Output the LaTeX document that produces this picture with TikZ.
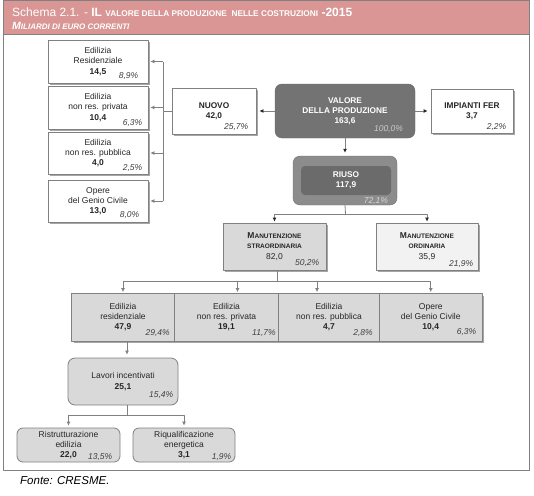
\documentclass[tikz,border=0pt]{standalone}
\usepackage[x11names,rgb]{xcolor}
\usepackage{fontspec}
\setmainfont{Liberation Sans}
\usepackage{tikz}
\usetikzlibrary{arrows.meta}
\usetikzlibrary{shadows}
\definecolor{headpink}{HTML}{D99694}
\newcommand{\smc}[2][6.5]{{\fontsize{#1}{#1}\selectfont #2}}

\begin{document}
\begin{tikzpicture}[x=1pt,y=-1pt,join=round,
every node/.style={font=\fontsize{8.5}{10.3}\selectfont,text=black!85,inner sep=0pt,align=center},
conn/.style={draw=black!50,line width=.8pt},
arr/.style={conn,-{Latex[length=4pt,width=4pt]},shorten >=2pt},
arrk/.style={conn,-{Latex[length=4pt,width=4pt,black!85]},shorten >=3pt},
shad/.style={drop shadow={shadow xshift=2pt,shadow yshift=-2pt,fill=black!35,opacity=1}},
wbox/.style={draw=black!50,line width=.8pt,fill=white,shad},
gbox/.style={draw=black!50,line width=.8pt,fill=black!15,shad},
rbox/.style={draw=black!50,line width=.8pt,fill=black!15,rounded corners=7pt},
pct/.style={anchor=base east,font=\fontsize{8.5}{10}\selectfont\itshape,text=black!75}]
\useasboundingbox (0,0) rectangle (534,495);
\draw[draw=black!50,line width=1pt] (3,1) rectangle (529,470);
\filldraw[fill=headpink,draw=black!50,line width=1pt] (3,1) rectangle (529,35);
\node[anchor=base west,text=white,font=\fontsize{12}{14}\selectfont] (head) at (12,16.5) {Schema 2.1. - \textbf{IL \smc[8.3]{VALORE DELLA PRODUZIONE\ \ NELLE COSTRUZIONI} -2015}};
\node[anchor=base west,text=white,font=\fontsize{10.5}{12}\selectfont\bfseries\itshape] (subhead) at (12,30) {M\smc[8]{ILIARDI DI EURO CORRENTI}};

\node[fill=black!55,draw=black!60,rounded corners=7pt,minimum width=140,minimum height=54,text=white,font=\fontsize{8.3}{10.2}\selectfont\bfseries] (valore) at (345,111) {VALORE\\DELLA PRODUZIONE\\163,6};
\node[pct,text=black!20] (valore-p) at ([shift={(-12,-7)}]valore.south east) {100,0\%};
\node[wbox,minimum width=84,minimum height=46,font=\fontsize{8.3}{10.2}\selectfont\bfseries] (nuovo) at (214,111) {NUOVO\\42,0};
\node[pct] (nuovo-p) at ([shift={(-8,-5)}]nuovo.south east) {25,7\%};
\node[wbox,minimum width=82,minimum height=44,font=\fontsize{8.3}{10.2}\selectfont\bfseries] (fer) at (472,111) {IMPIANTI FER\\3,7};
\node[pct] (fer-p) at ([shift={(-7,-4)}]fer.south east) {2,2\%};

\node[wbox,minimum width=100,minimum height=43] (res) at (98,61.5) {Edilizia\\Residenziale\\\textbf{14,5}};
\node[pct] (res-p) at ([shift={(-10,-5)}]res.south east) {8,9\%};
\node[wbox,minimum width=100,minimum height=43] (npriv) at (98,107.5) {Edilizia\\non res. privata\\\textbf{10,4}};
\node[pct] (npriv-p) at ([shift={(-6,-4)}]npriv.south east) {6,3\%};
\node[wbox,minimum width=100,minimum height=42] (npub) at (98,153) {Edilizia\\non res. pubblica\\\textbf{4,0}};
\node[pct] (npub-p) at ([shift={(-6,-4)}]npub.south east) {2,5\%};
\node[wbox,minimum width=100,minimum height=42] (genio) at (98,201) {Opere\\del Genio Civile\\\textbf{13,0}};
\node[pct] (genio-p) at ([shift={(-9,-5)}]genio.south east) {8,0\%};

\node[fill=black!45,draw=black!55,rounded corners=7pt,minimum width=104,minimum height=49] (riuso) at (345,180.5) {};
\node[fill=black!58,rounded corners=4pt,minimum width=90,minimum height=29,text=white,font=\fontsize{8.3}{10.2}\selectfont\bfseries] (riuso-in) at (346,180.5) {RIUSO\\117,9};
\node[pct,text=black!15] (riuso-p) at ([shift={(-9,-2)}]riuso.south east) {72,1\%};

\node[gbox,minimum width=103,minimum height=47] (mstra) at (274.5,246.5) {\textbf{M\smc{ANUTENZIONE}}\\\textbf{\smc{STRAORDINARIA}}\\82,0};
\node[pct] (mstra-p) at ([shift={(-7,-4.5)}]mstra.south east) {50,2\%};
\node[wbox,fill=black!5,minimum width=102,minimum height=47] (mord) at (427,246.5) {\textbf{M\smc{ANUTENZIONE}}\\\textbf{\smc{ORDINARIA}}\\35,9};
\node[pct] (mord-p) at ([shift={(-5,-4)}]mord.south east) {21,9\%};

\node[gbox,minimum width=103,minimum height=47.5] (eb1) at (123,317.25) {Edilizia\\residenziale\\\textbf{47,9}};
\node[pct] (eb1-p) at ([shift={(-5,-6)}]eb1.south east) {29,4\%};
\node[gbox,minimum width=104,minimum height=47.5] (eb2) at (226.5,317.25) {Edilizia\\non res. privata\\\textbf{19,1}};
\node[pct] (eb2-p) at ([shift={(-3,-6)}]eb2.south east) {11,7\%};
\node[gbox,minimum width=101,minimum height=47.5] (eb3) at (329,317.25) {Edilizia\\non res. pubblica\\\textbf{4,7}};
\node[pct] (eb3-p) at ([shift={(-7,-6)}]eb3.south east) {2,8\%};
\node[gbox,minimum width=102.5,minimum height=47.5] (eb4) at (430.75,317.25) {Opere\\del Genio Civile\\\textbf{10,4}};
\node[pct] (eb4-p) at ([shift={(-6,-6.5)}]eb4.south east) {6,3\%};

\node[rbox,minimum width=110,minimum height=47] (lav) at (123,381.5) {Lavori incentivati\\\textbf{25,1}};
\node[pct] (lav-p) at ([shift={(-5,-8)}]lav.south east) {15,4\%};
\node[rbox,rounded corners=6pt,minimum width=103,minimum height=34] (ristr) at (68.5,445) {Ristrutturazione\\edilizia\\\textbf{22,0}};
\node[pct] (ristr-p) at ([shift={(-8,-3)}]ristr.south east) {13,5\%};
\node[rbox,rounded corners=6pt,minimum width=102,minimum height=34] (riqu) at (184,445) {Riqualificazione\\energetica\\\textbf{3,1}};
\node[pct] (riqu-p) at ([shift={(-4,-3)}]riqu.south east) {1,9\%};

\node[anchor=base west,font=\fontsize{11.5}{13}\selectfont\itshape,text=black] (fonte) at (20,484) {Fonte: CRESME.};

\coordinate (nbus) at (163,111);
\coordinate (rbus) at (345.5,214);
\coordinate (sbus) at (277,281);
\coordinate (lbus) at (127,415);
\draw[arrk] (valore.west) -- (nuovo.east);
\draw[arrk] (valore.east) -- (fer.west);
\draw[arrk] (valore.south) -- (riuso.north);
\draw[conn] (nuovo.west) -- (nbus);
\draw[conn] (nbus |- res.east) -- (nbus |- genio.east);
\foreach \n in {res,npriv,npub,genio}
  \draw[arr] (nbus |- \n.east) -- (\n.east);
\draw[conn] (riuso.south) -- (rbus);
\draw[arrk,shorten >=1pt] (rbus) -| (mstra.north);
\draw[arrk,shorten >=1pt] (rbus) -| (mord.north);
\draw[conn] (sbus |- mstra.south) -- (sbus);
\draw[arr,shorten >=1pt] (sbus) -| (eb1.north);
\draw[arr,shorten >=1pt] (sbus) -| ([xshift=11pt]eb2.north);
\draw[arr,shorten >=1pt] (sbus) -| ([xshift=-12pt]eb3.north);
\draw[arr,shorten >=1pt] (sbus) -| (eb4.north);
\draw[arr,shorten >=3pt] ([xshift=4pt]eb1.south) -- ([xshift=4pt]lav.north);
\draw[conn] ([xshift=4pt]lav.south) -- (lbus);
\draw[arr] (lbus) -| (ristr.north);
\draw[arr] (lbus) -| (riqu.north);
\end{tikzpicture}
\end{document}
